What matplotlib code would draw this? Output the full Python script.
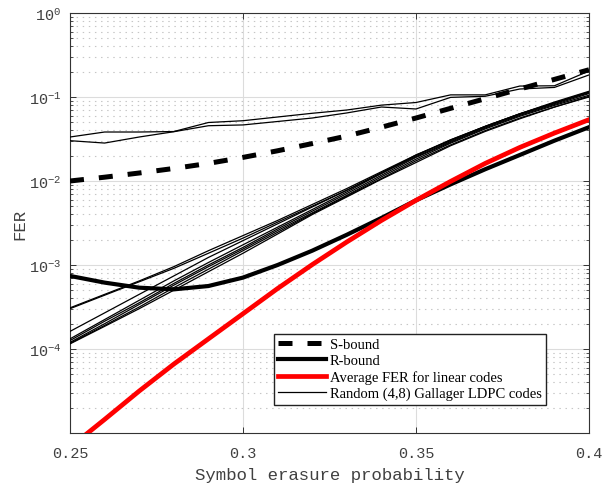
import matplotlib
matplotlib.use("Agg")
import matplotlib.pyplot as plt
from matplotlib.ticker import FixedLocator, FixedFormatter, LogLocator, NullFormatter

# === data ===
eps = [0.25, 0.26, 0.27, 0.28, 0.29, 0.30, 0.31, 0.32,
       0.33, 0.34, 0.35, 0.36, 0.37, 0.38, 0.39, 0.40]

s_bound = [0.0100, 0.0111, 0.01245, 0.0141, 0.0162, 0.0191, 0.0229, 0.0279,
           0.0343, 0.0437, 0.0562, 0.0733, 0.0955, 0.1245, 0.162, 0.211]

r_bound = [7.41e-4, 6.17e-4, 5.37e-4, 5.13e-4, 5.62e-4, 7.08e-4, 1.00e-3, 1.48e-3,
           2.29e-3, 3.63e-3, 5.89e-3, 9.12e-3, 1.38e-2, 2.04e-2, 3.02e-2, 4.37e-2]

avg_fer = [6.76e-6, 1.45e-5, 3.16e-5, 6.61e-5, 1.32e-4, 2.63e-4, 5.25e-4, 1.01e-3,
           1.88e-3, 3.39e-3, 5.89e-3, 9.89e-3, 1.62e-2, 2.51e-2, 3.72e-2, 5.37e-2]

# random (4,8) Gallager LDPC codes, one list per code
ldpc_1 = [0.0334, 0.0383, 0.0383, 0.0388, 0.0497, 0.0522, 0.0578, 0.064,
          0.070, 0.080, 0.086, 0.106, 0.106, 0.135, 0.136, 0.204]
ldpc_2 = [0.0302, 0.0283, 0.0334, 0.0386, 0.0455, 0.0465, 0.0511, 0.0562,
          0.0646, 0.076, 0.072, 0.099, 0.102, 0.1245, 0.130, 0.183]
ldpc_3 = [3.02e-4, 4.37e-4, 6.31e-4, 9.12e-4, 1.38e-3, 2.09e-3, 3.24e-3, 5.01e-3,
          7.76e-3, 1.23e-2, 1.95e-2, 2.95e-2, 4.37e-2, 6.17e-2, 8.32e-2, 1.15e-1]
ldpc_4 = [3.09e-4, 4.47e-4, 6.46e-4, 9.55e-4, 1.48e-3, 2.24e-3, 3.39e-3, 5.25e-3,
          8.13e-3, 1.29e-2, 2.04e-2, 3.09e-2, 4.47e-2, 6.31e-2, 8.71e-2, 1.17e-1]
ldpc_5 = [1.62e-4, 2.69e-4, 4.47e-4, 7.41e-4, 1.23e-3, 1.95e-3, 3.09e-3, 4.90e-3,
          7.76e-3, 1.26e-2, 2.00e-2, 3.09e-2, 4.47e-2, 6.31e-2, 8.51e-2, 1.12e-1]
ldpc_6 = [1.32e-4, 2.24e-4, 3.80e-4, 6.46e-4, 1.07e-3, 1.74e-3, 2.82e-3, 4.57e-3,
          7.41e-3, 1.23e-2, 2.04e-2, 3.02e-2, 4.47e-2, 6.31e-2, 8.51e-2, 1.15e-1]
ldpc_7 = [1.26e-4, 2.14e-4, 3.55e-4, 6.03e-4, 1.00e-3, 1.62e-3, 2.69e-3, 4.37e-3,
          7.08e-3, 1.17e-2, 1.91e-2, 2.88e-2, 4.27e-2, 6.03e-2, 8.13e-2, 1.10e-1]
ldpc_8 = [1.20e-4, 2.00e-4, 3.39e-4, 5.75e-4, 9.55e-4, 1.55e-3, 2.57e-3, 4.17e-3,
          6.76e-3, 1.12e-2, 1.82e-2, 2.82e-2, 4.17e-2, 5.89e-2, 7.94e-2, 1.05e-1]
ldpc_9 = [1.17e-4, 1.91e-4, 3.16e-4, 5.37e-4, 8.91e-4, 1.48e-3, 2.45e-3, 4.07e-3,
          6.61e-3, 1.07e-2, 1.74e-2, 2.69e-2, 3.98e-2, 5.62e-2, 7.59e-2, 1.02e-1]
ldpc_10 = [1.15e-4, 1.86e-4, 3.02e-4, 5.01e-4, 8.32e-4, 1.38e-3, 2.34e-3, 3.98e-3,
           6.46e-3, 1.05e-2, 1.66e-2, 2.63e-2, 3.89e-2, 5.50e-2, 7.59e-2, 1.00e-1]
ldpc_codes = [ldpc_1, ldpc_2, ldpc_3, ldpc_4, ldpc_5,
              ldpc_6, ldpc_7, ldpc_8, ldpc_9, ldpc_10]

x_ticks = [0.25, 0.3, 0.35, 0.4]
x_labels = ["0.25", "0.3", "0.35", "0.4"]
y_ticks = [1e-4, 1e-3, 1e-2, 1e-1, 1e0]
y_labels = [r"$10^{-4}$", r"$10^{-3}$", r"$10^{-2}$", r"$10^{-1}$", r"$10^{0}$"]

# === style ===
plt.rcParams["mathtext.fontset"] = "custom"
plt.rcParams["mathtext.rm"] = "Liberation Mono"
plt.rcParams["mathtext.it"] = "Liberation Mono"
plt.rcParams["mathtext.bf"] = "Liberation Mono"
mono = "Liberation Mono"
txt_col = "#404040"

fig = plt.figure(figsize=(6.08, 4.89), dpi=100)
ax = fig.add_axes([70 / 608, 55 / 489, 519 / 608, 420 / 489])

for fer in ldpc_codes:
    h_l, = ax.plot(eps, fer, color="black", lw=0.9, zorder=3)

h_s, = ax.plot(eps, s_bound, color="black", lw=3.6, ls=(0, (2.8, 3.0)), zorder=4)
h_r, = ax.plot(eps, r_bound, color="black", lw=3.0, zorder=4)
h_a, = ax.plot(eps, avg_fer, color="#ff0000", lw=3.4, zorder=5)

ax.set_yscale("log")
ax.set_xlim(0.25, 0.4)
ax.set_ylim(1e-5, 1)

ax.xaxis.set_major_locator(FixedLocator(x_ticks))
ax.xaxis.set_major_formatter(FixedFormatter(x_labels))
ax.yaxis.set_major_locator(FixedLocator(y_ticks))
ax.yaxis.set_major_formatter(FixedFormatter(y_labels))
ax.yaxis.set_minor_locator(LogLocator(base=10, subs=[2, 3, 4, 5, 6, 7, 8, 9], numticks=20))
ax.yaxis.set_minor_formatter(NullFormatter())

ax.grid(True, which="major", color="#dcdcdc", lw=0.8, ls="-", zorder=0)
ax.grid(True, which="minor", axis="y", color="#c6c6c6", lw=0.8,
        ls=(0, (1.3, 4.2)), zorder=0)
ax.set_axisbelow(True)

ax.tick_params(which="both", direction="in", top=True, right=True,
               color="#333333", labelcolor=txt_col)
ax.tick_params(which="major", length=4, width=0.7, labelsize=11)
ax.tick_params(axis="x", which="major", pad=9.5)
ax.tick_params(axis="y", which="major", pad=6)
ax.tick_params(which="minor", length=2.5, width=0.6)
for lab in ax.get_xticklabels() + ax.get_yticklabels():
    lab.set_fontfamily(mono)
for sp in ax.spines.values():
    sp.set_color("#333333")
    sp.set_linewidth(0.8)

ax.set_xlabel("Symbol erasure probability", fontfamily=mono, fontsize=12.5,
              color=txt_col, labelpad=5)
ax.set_ylabel("FER", fontfamily=mono, fontsize=12.5, color=txt_col, labelpad=1)

leg = ax.legend([h_s, h_r, h_a, h_l],
                ["S-bound", "R-bound", "Average FER for linear codes",
                 "Random (4,8) Gallager LDPC codes"],
                loc="lower right", bbox_to_anchor=(0.917, 0.067),
                borderaxespad=0, fancybox=False, framealpha=1,
                edgecolor="#222222", prop={"family": "Liberation Serif", "size": 10.5},
                handlelength=3.3, labelspacing=0.2, borderpad=0.3,
                handletextpad=0.25)
leg.get_frame().set_linewidth(1.0)
leg.set_zorder(10)

fig.savefig("out.png", dpi=100)
